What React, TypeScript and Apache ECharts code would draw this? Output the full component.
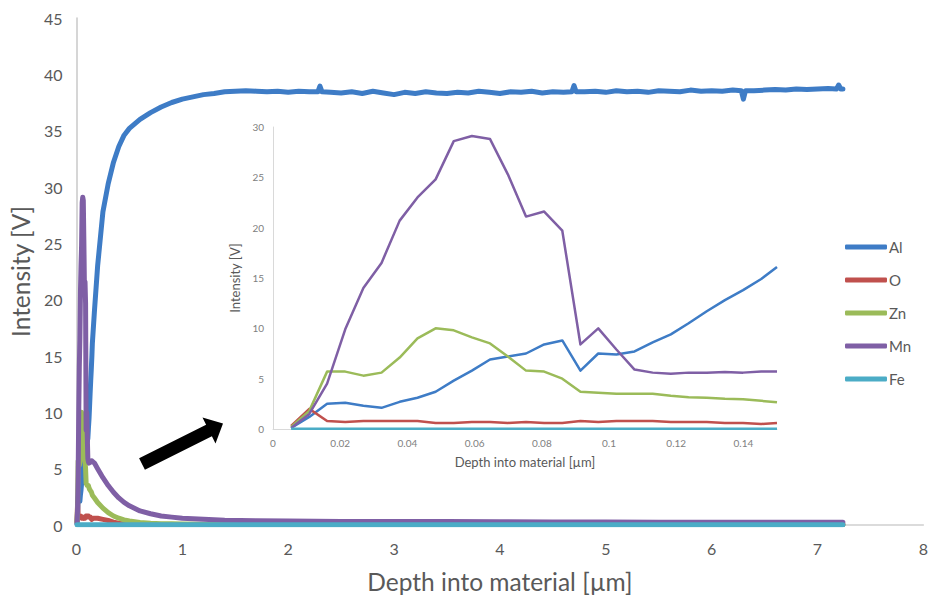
import React, { useEffect, useRef } from "react";
import * as echarts from "echarts";

// ---------- Inset data (first 0.15 µm) ----------
const insetDepth = [
  0.0054, 0.0108, 0.0161, 0.0215, 0.0269, 0.0323, 0.0377, 0.043, 0.0484, 0.0538,
  0.0592, 0.0646, 0.0699, 0.0753, 0.0807, 0.0861, 0.0915, 0.0968, 0.1022, 0.1076,
  0.113, 0.1184, 0.1237, 0.1291, 0.1345, 0.1399, 0.1453, 0.15,
];
const alInset = [
  0.1, 1.2, 2.5, 2.6, 2.3, 2.1, 2.7, 3.1, 3.7, 4.8,
  5.8, 6.9, 7.2, 7.5, 8.4, 8.8, 5.8, 7.5, 7.4, 7.7,
  8.6, 9.4, 10.5, 11.7, 12.8, 13.8, 14.9, 16.1,
];
const oInset = [
  0.3, 2.0, 0.8, 0.7, 0.8, 0.8, 0.8, 0.8, 0.6, 0.6,
  0.7, 0.7, 0.6, 0.7, 0.6, 0.6, 0.8, 0.7, 0.8, 0.8,
  0.8, 0.7, 0.7, 0.7, 0.6, 0.6, 0.5, 0.6,
];
const znInset = [
  0.2, 1.8, 5.7, 5.7, 5.3, 5.6, 7.1, 9.0, 10.0, 9.8,
  9.1, 8.5, 7.2, 5.8, 5.7, 5.0, 3.7, 3.6, 3.5, 3.5,
  3.5, 3.3, 3.15, 3.1, 3.0, 2.95, 2.8, 2.65,
];
const mnInset = [
  0.1, 1.5, 4.5, 9.9, 14.0, 16.5, 20.7, 23.0, 24.8, 28.6,
  29.1, 28.8, 25.3, 21.1, 21.6, 19.7, 8.4, 10.0, 7.9, 5.9,
  5.6, 5.5, 5.6, 5.6, 5.65, 5.6, 5.7, 5.7,
];
const feInset = [
  0.02, 0.02, 0.02, 0.02, 0.02, 0.02, 0.02, 0.02, 0.02, 0.02,
  0.02, 0.02, 0.02, 0.02, 0.02, 0.02, 0.02, 0.02, 0.02, 0.02,
  0.02, 0.02, 0.02, 0.02, 0.02, 0.02, 0.02, 0.02,
];

// ---------- Main chart: remaining depth profile ----------
const alTailDepth = [
  0.17, 0.2, 0.25, 0.3, 0.35, 0.4, 0.45, 0.5,
  0.6, 0.7, 0.8, 0.9, 1.0, 1.1, 1.2, 1.3, 1.4, 1.5,
  1.6, 1.7, 1.8, 1.9, 2.0, 2.1, 2.2, 2.28, 2.3, 2.32, 2.4, 2.5,
  2.6, 2.7, 2.8, 2.9, 3.0, 3.1, 3.2, 3.3, 3.4, 3.5,
  3.6, 3.7, 3.8, 3.9, 4.0, 4.1, 4.2, 4.3, 4.4, 4.5,
  4.6, 4.68, 4.7, 4.72, 4.8, 4.9, 5.0, 5.1, 5.2, 5.3, 5.4, 5.5,
  5.6, 5.7, 5.8, 5.9, 6.0, 6.1, 6.2, 6.28, 6.3, 6.32, 6.4, 6.5,
  6.6, 6.7, 6.8, 6.9, 7.0, 7.1, 7.18, 7.2, 7.22, 7.24,
];
const alTail = [
  19.0, 23.0, 27.8, 30.3, 32.2, 33.6, 34.6, 35.2,
  36.0, 36.6, 37.1, 37.5, 37.8, 38.0, 38.2, 38.3, 38.45, 38.5,
  38.55, 38.5, 38.45, 38.5, 38.4, 38.5, 38.45, 38.45, 38.95, 38.45, 38.4, 38.35,
  38.45, 38.3, 38.5, 38.35, 38.2, 38.4, 38.3, 38.45, 38.35, 38.3,
  38.4, 38.35, 38.5, 38.4, 38.3, 38.45, 38.4, 38.5, 38.35, 38.45,
  38.4, 38.45, 39.0, 38.45, 38.45, 38.5, 38.4, 38.55, 38.45, 38.5, 38.4, 38.55,
  38.5, 38.45, 38.6, 38.5, 38.55, 38.5, 38.6, 38.55, 37.8, 38.55, 38.55, 38.6,
  38.65, 38.6, 38.7, 38.65, 38.7, 38.75, 38.7, 39.05, 38.7, 38.7,
];
const minorTailDepth = [
  0.17, 0.2, 0.25, 0.3, 0.35, 0.4, 0.45, 0.5, 0.6, 0.7,
  0.8, 0.9, 1.0, 1.2, 1.4, 1.7, 2.0, 2.5, 3.0, 3.5,
  4.0, 4.5, 5.0, 5.5, 6.0, 6.5, 7.0, 7.24,
];
const oTail = [
  0.6, 0.6, 0.5, 0.4, 0.25, 0.15, 0.1, 0.08, 0.06, 0.05,
  0.05, 0.05, 0.05, 0.05, 0.05, 0.05, 0.05, 0.05, 0.05, 0.05,
  0.05, 0.05, 0.05, 0.05, 0.05, 0.05, 0.05, 0.05,
];
const znTail = [
  2.4, 2.0, 1.5, 1.1, 0.8, 0.6, 0.45, 0.35, 0.22, 0.15,
  0.12, 0.1, 0.08, 0.07, 0.06, 0.06, 0.05, 0.05, 0.05, 0.05,
  0.05, 0.05, 0.05, 0.05, 0.05, 0.05, 0.05, 0.05,
];
const mnTail = [
  5.5, 5.0, 4.2, 3.5, 2.9, 2.4, 2.0, 1.7, 1.25, 1.0,
  0.8, 0.7, 0.6, 0.5, 0.42, 0.38, 0.35, 0.32, 0.3, 0.3,
  0.28, 0.27, 0.26, 0.25, 0.25, 0.24, 0.24, 0.24,
];
const feTail = [
  0.03, 0.03, 0.03, 0.03, 0.03, 0.03, 0.03, 0.03, 0.03, 0.03,
  0.03, 0.03, 0.03, 0.03, 0.03, 0.03, 0.03, 0.03, 0.03, 0.03,
  0.03, 0.03, 0.03, 0.03, 0.03, 0.03, 0.03, 0.03,
];

const elements = ["Al", "O", "Zn", "Mn", "Fe"];
const colors = ["#3E7CC6", "#C0504D", "#9BBB59", "#7F5FA5", "#4BACC6"];
const mainXTicks = { min: 0, max: 8, interval: 1 };
const mainYTicks = { min: 0, max: 45, interval: 5 };
const insetXTicks = { min: 0, max: 0.15, interval: 0.02 };
const insetYTicks = { min: 0, max: 30, interval: 5 };

const zip = (xs: number[], ys: number[]) => xs.map((x, i) => [x, ys[i]]);

const insetValues = [alInset, oInset, znInset, mnInset, feInset];
const tails: [number[], number[]][] = [
  [alTailDepth, alTail],
  [minorTailDepth, oTail],
  [minorTailDepth, znTail],
  [minorTailDepth, mnTail],
  [minorTailDepth, feTail],
];

const FONT = "Lato, 'Open Sans', sans-serif";

export default function App() {
  const ref = useRef<HTMLDivElement>(null);
  useEffect(() => {
    if (!ref.current) return;
    const chart = echarts.init(ref.current, null, { renderer: "svg" });

    const mainSeries = elements.map((name, i) => ({
      name,
      type: "line",
      xAxisIndex: 0,
      yAxisIndex: 0,
      showSymbol: false,
      symbol: "none",
      data: [...zip(insetDepth, insetValues[i]), ...zip(tails[i][0], tails[i][1])],
      lineStyle: { color: colors[i], width: 5, join: "round", cap: "round" },
      itemStyle: { color: colors[i] },
      z: 2,
    }));
    const insetSeries = elements.map((name, i) => ({
      name,
      type: "line",
      xAxisIndex: 1,
      yAxisIndex: 1,
      showSymbol: false,
      symbol: "none",
      data: zip(insetDepth, insetValues[i]),
      lineStyle: { color: colors[i], width: 2.5, join: "round" },
      itemStyle: { color: colors[i] },
      z: 3,
    }));

    const arrow = [
      [139.1, 458.2],
      [206.1, 424.7],
      [202.5, 417.5],
      [223, 423.5],
      [215.5, 443.5],
      [211.9, 436.3],
      [144.9, 469.8],
    ];

    chart.setOption({
      animation: false,
      backgroundColor: "#ffffff",
      textStyle: { fontFamily: FONT },
      grid: [
        { left: 75, top: 18, width: 849, height: 507, containLabel: false },
        { left: 273, top: 127, width: 504, height: 302, containLabel: false },
      ],
      legend: {
        data: elements,
        orient: "vertical",
        left: 845,
        top: 239,
        itemWidth: 42,
        itemHeight: 5,
        itemGap: 17,
        icon: "roundRect",
        padding: 0,
        selectedMode: false,
        textStyle: { fontSize: 15, color: "#595959", lineHeight: 16, padding: [0, 0, 0, -3], fontFamily: FONT },
      },
      xAxis: [
        {
          type: "value",
          gridIndex: 0,
          ...mainXTicks,
          axisLine: { show: true, lineStyle: { color: "#d0d0d0", width: 1.5 } },
          axisTick: { show: false },
          splitLine: { show: false },
          axisLabel: { fontSize: 16, color: "#595959", margin: 15, fontFamily: FONT },
          name: "Depth into material [µm]",
          nameLocation: "middle",
          nameGap: 44,
          nameTextStyle: { fontSize: 24.5, color: "#595959", fontFamily: FONT },
        },
        {
          type: "value",
          gridIndex: 1,
          ...insetXTicks,
          axisLine: { show: true, lineStyle: { color: "#d9d9d9", width: 1 } },
          axisTick: { show: false },
          splitLine: { show: false },
          axisLabel: { fontSize: 10, color: "#808080", margin: 9, showMaxLabel: false, fontFamily: FONT },
          name: "Depth into material [µm]",
          nameLocation: "middle",
          nameGap: 26,
          nameTextStyle: { fontSize: 13, color: "#595959", fontFamily: FONT },
        },
      ],
      yAxis: [
        {
          type: "value",
          gridIndex: 0,
          ...mainYTicks,
          axisLine: { show: true, lineStyle: { color: "#c8c8c8", width: 1.5 } },
          axisTick: { show: false },
          splitLine: { show: false },
          axisLabel: { fontSize: 16, color: "#595959", margin: 14, fontFamily: FONT },
          name: "Intensity [V]",
          nameLocation: "middle",
          nameGap: 41,
          nameTextStyle: { fontSize: 24.5, color: "#595959", fontFamily: FONT },
        },
        {
          type: "value",
          gridIndex: 1,
          ...insetYTicks,
          axisLine: { show: true, lineStyle: { color: "#d9d9d9", width: 1 } },
          axisTick: { show: false },
          splitLine: { show: false },
          axisLabel: { fontSize: 10, color: "#808080", margin: 9, fontFamily: FONT },
          name: "Intensity [V]",
          nameLocation: "middle",
          nameGap: 23,
          nameTextStyle: { fontSize: 13, color: "#595959", fontFamily: FONT },
        },
      ],
      graphic: [
        {
          type: "polygon",
          shape: { points: arrow },
          style: { fill: "#000000" },
          z: 10,
        },
      ],
      series: [...mainSeries, ...insetSeries],
    });
    return () => chart.dispose();
  }, []);
  return (
    <div
      ref={ref}
      style={{ position: "absolute", left: 0, top: 0, width: 931, height: 600, background: "#fff" }}
    />
  );
}
